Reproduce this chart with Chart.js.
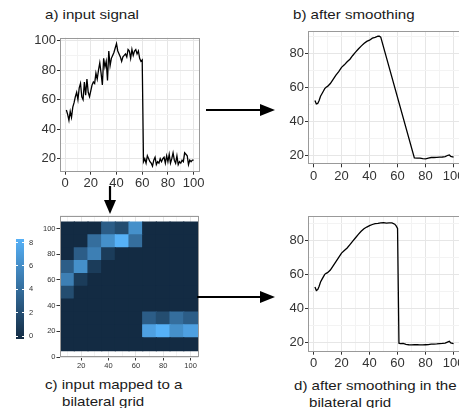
<!DOCTYPE html>
<html>
<head>
<meta charset="utf-8">
<script src="https://cdn.jsdelivr.net/npm/chart.js@4.4.1/dist/chart.umd.min.js"></script>
<style>
  html, body { margin: 0; padding: 0; background: #fff; width: 459px; height: 408px; overflow: hidden; }
  body { position: relative; font-family: "Liberation Sans", Arial, Helvetica, sans-serif; }
  canvas { position: absolute; }
  .txt { position: absolute; font-size: 13px; line-height: 16px; color: #1a1a1a; white-space: nowrap;
         transform: scaleX(1.16); transform-origin: 0 0; }
  .leg { position: absolute; font-size: 7.5px; line-height: 8px; color: #333; }
  svg { position: absolute; left: 0; top: 0; }
</style>
</head>
<body>

<div class="txt" style="left:45px;top:7px">a) input signal</div>
<div class="txt" style="left:293px;top:7px">b) after smoothing</div>
<div class="txt" style="left:45px;top:377px">c) input mapped to a</div>
<div class="txt" style="left:62px;top:394px">bilateral grid</div>
<div class="txt" style="left:294px;top:378px">d) after smoothing in the</div>
<div class="txt" style="left:309px;top:395px">bilateral grid</div>

<canvas id="chartA" width="215" height="175" style="left:0px;top:25px"></canvas>
<canvas id="chartB" width="230" height="170" style="left:250px;top:20px"></canvas>
<canvas id="chartC" width="215" height="175" style="left:0px;top:205px"></canvas>
<canvas id="chartD" width="230" height="170" style="left:250px;top:205px"></canvas>

<div id="legend"></div>

<svg width="459" height="408">
  <g stroke="#000" stroke-width="2.2" fill="#000">
    <line x1="206" y1="110" x2="262" y2="110"/>
    <polygon points="260,104 275,110 260,116" stroke="none"/>
    <line x1="110" y1="186" x2="110" y2="202"/>
    <polygon points="104,200 110,214 116,200" stroke="none"/>
    <line x1="197" y1="297" x2="262" y2="297"/>
    <polygon points="260,291 275,297 260,303" stroke="none"/>
  </g>
</svg>

<script>
// --- Data ---
// a) input signal, sample positions 1..100
const signalX = Array.from({ length: 100 }, (_, i) => i + 1);
const signalY = [
  53, 50, 46, 52, 48, 55, 58, 62, 65, 60,
  68, 71, 62, 60, 72, 63, 74, 65, 62, 66,
  70, 72, 71, 78, 74, 80, 85, 78, 70, 88,
  82, 86, 73, 93, 83, 88, 90, 92, 95, 98,
  93, 91, 89, 86, 89, 90, 91, 89, 94, 93,
  88, 94, 90, 93, 94, 91, 93, 88, 86, 87,
  18, 20, 17, 22, 20, 18, 17, 15, 19, 21,
  16, 18, 17, 20, 18, 20, 21, 17, 22, 18,
  23, 17, 20, 24, 19, 17, 22, 16, 18, 17,
  19, 18, 24, 23, 22, 16, 19, 18, 19, 19
];

// b) after smoothing
const smoothX = [1, 2, 3, 4, 5, 6, 7, 8, 9, 10, 12, 14, 16, 18, 20, 22, 24, 26, 28, 30,
  32, 34, 36, 38, 40, 42, 44, 46, 47, 48, 72, 74, 76, 78, 80, 82, 84, 86, 88, 90,
  92, 94, 96, 97, 98, 100];
const smoothY = [52.5, 50.5, 50.8, 52.5, 55, 56.5, 58, 59.5, 60.3, 60.8, 62.5, 65, 67.5, 69.5, 72, 73.5, 75.3, 76.8, 79, 81,
  82.8, 84.5, 86, 87.3, 88, 89.2, 89.6, 90.3, 90.3, 89.8, 18.8, 18.6, 18.6, 18.3, 18.2, 18.6, 19.0, 19.0, 19.1, 19.2,
  19.3, 19.5, 20.3, 20.5, 19.6, 19.2];

// d) after smoothing in the bilateral grid
const gridSmoothX = [1, 2, 3, 4, 5, 6, 7, 8, 9, 10, 12, 14, 16, 18, 20, 22, 24, 26, 28, 30,
  32, 34, 36, 38, 40, 42, 44, 46, 48, 50, 52, 54, 56, 58, 59, 60, 61, 62, 64, 66,
  68, 70, 72, 74, 76, 78, 80, 82, 84, 86, 88, 90, 92, 94, 96, 97, 98, 100];
const gridSmoothY = [52.5, 50.5, 51, 53, 55.5, 57, 58.5, 60, 60.6, 61, 62.5, 65, 67.5, 70, 72.5, 74, 75.5, 77.5, 79.5, 81.5,
  83.5, 85.3, 86.8, 87.8, 88.6, 89.3, 89.8, 90, 90.3, 90.4, 90.1, 90.3, 90.2, 89.5, 88.5, 87, 19.5, 19.3, 19.4, 18.8,
  18.6, 18.5, 18.6, 18.6, 18.5, 18.5, 18.6, 18.7, 18.9, 19, 19.1, 19.3, 19.4, 19.6, 20.3, 20.6, 19.7, 19.2];

// c) bilateral grid: cell centres and counts (rows bottom -> top, columns left -> right)
const cellCenters = [10, 20, 30, 40, 50, 60, 70, 80, 90, 100];
const cellCounts = [
  [0, 0, 0, 0, 0, 0, 0, 0, 0, 0],  // y = 10
  [0, 0, 0, 0, 0, 0, 7, 8, 6, 7],  // y = 20
  [0, 0, 0, 0, 0, 0, 3, 2, 4, 3],  // y = 30
  [0, 0, 0, 0, 0, 0, 0, 0, 0, 0],  // y = 40
  [2, 0, 0, 0, 0, 0, 0, 0, 0, 0],  // y = 50
  [5, 1, 0, 0, 0, 0, 0, 0, 0, 0],  // y = 60
  [3, 6, 1, 0, 0, 0, 0, 0, 0, 0],  // y = 70
  [0, 3, 5, 1, 0, 0, 0, 0, 0, 0],  // y = 80
  [0, 0, 4, 6, 8, 4, 0, 0, 0, 0],  // y = 90
  [0, 0, 0, 3, 2, 6, 0, 0, 0, 0]   // y = 100
];
const legendTicks = [0, 2, 4, 6, 8];

// --- Helpers ---
const FONT = '"Liberation Sans", Arial, Helvetica, sans-serif';
const pts = (xs, ys) => xs.map((x, i) => ({ x, y: ys[i] }));
const LOW = [19, 43, 67], HIGH = [86, 177, 247];
const countColor = v => {
  const t = v / 8;
  const c = LOW.map((lo, i) => Math.round(lo + (HIGH[i] - lo) * t));
  return `rgb(${c[0]},${c[1]},${c[2]})`;
};

// panel border drawn over the data, like ggplot's theme_bw
const panelBorder = {
  id: 'panelBorder',
  afterDatasetsDraw(chart) {
    const { ctx, chartArea: a } = chart;
    ctx.save();
    ctx.strokeStyle = '#999';
    ctx.lineWidth = 1;
    ctx.strokeRect(Math.round(a.left) + 0.5, Math.round(a.top) + 0.5,
      Math.round(a.right - a.left) - 1, Math.round(a.bottom - a.top) - 1);
    ctx.restore();
  }
};

function axis(pos, min, max, size, fontSize, tickLen) {
  return {
    type: 'linear', position: pos, min, max, offset: false,
    border: { display: false },
    grid: {
      offset: false,
      color: c => (c.tick && c.tick.value % 20 === 0) ? '#e6e6e6' : '#f3f3f3',
      tickColor: c => (c.tick && c.tick.value % 20 === 0) ? '#333' : 'rgba(0,0,0,0)',
      tickLength: tickLen, lineWidth: 1
    },
    ticks: {
      stepSize: 10, autoSkip: false, includeBounds: false, maxTicksLimit: 30, maxRotation: 0,
      padding: 1, color: '#333', font: { family: FONT, size: fontSize },
      callback: v => (v % 20 === 0 ? v : '')
    },
    afterFit: s => { if (pos === 'left') s.width = size; else s.height = size; }
  };
}

function lineChart(id, xs, ys, box) {
  return new Chart(document.getElementById(id), {
    type: 'line',
    data: { datasets: [{ data: pts(xs, ys), borderColor: '#000', borderWidth: 1.3, pointRadius: 0, tension: 0, fill: false }] },
    options: {
      responsive: false, animation: false,
      layout: { padding: box.pad },
      plugins: { legend: { display: false }, tooltip: { enabled: false } },
      scales: {
        x: axis('bottom', -3.95, 104.95, 20, 13, 3),
        y: axis('left', box.yMin, box.yMax, box.yW, 13, 3)
      }
    },
    plugins: [panelBorder]
  });
}

// --- Charts ---
lineChart('chartA', signalX, signalY, { yMin: 11.2, yMax: 102, yW: 60, pad: { left: 0, right: 15, top: 12.7, bottom: 8.3 } });
lineChart('chartB', smoothX, smoothY, { yMin: 15, yMax: 93.4, yW: 58, pad: { left: 0, right: 19.5, top: 11, bottom: 5.7 } });
lineChart('chartD', gridSmoothX, gridSmoothY, { yMin: 14.5, yMax: 94.3, yW: 58, pad: { left: 0, right: 19.5, top: 11, bottom: 3.3 } });

new Chart(document.getElementById('chartC'), {
  type: 'bar',
  data: {
    datasets: cellCenters.map((yc, r) => ({
      data: cellCenters.map(xc => ({ x: xc, y: [yc - 5, yc + 5] })),
      backgroundColor: cellCounts[r].map(countColor),
      grouped: false, barPercentage: 1, categoryPercentage: 1,
      borderWidth: 0, inflateAmount: 0.6
    }))
  },
  options: {
    responsive: false, animation: false,
    layout: { padding: { left: 0, right: 16.5, top: 10.7, bottom: 7 } },
    plugins: { legend: { display: false }, tooltip: { enabled: false } },
    scales: {
      x: axis('bottom', 4.5, 105.8, 16, 7.5, 3.5),
      y: axis('left', 0, 110, 60, 7.5, 3.5)
    }
  },
  plugins: [panelBorder]
});

// --- Colour bar legend for panel c ---
(function renderLegend() {
  const el = document.getElementById('legend');
  const barTop = 239, barH = 100, zeroY = 336, unit = (336 - 242.5) / 8;
  let html = `<div style="position:absolute;left:16px;top:${barTop}px;width:8px;height:${barH}px;` +
    `background:linear-gradient(to top, ${countColor(0)}, ${countColor(8)})"></div>`;
  legendTicks.forEach(v => {
    const y = zeroY - v * unit;
    html += `<div style="position:absolute;left:16px;top:${y - 0.5}px;width:2px;height:1px;background:#fff"></div>`;
    html += `<div style="position:absolute;left:22px;top:${y - 0.5}px;width:2px;height:1px;background:#fff"></div>`;
    html += `<div class="leg" style="left:29px;top:${y - 4}px">${v}</div>`;
  });
  el.innerHTML = html;
})();
</script>
</body>
</html>
